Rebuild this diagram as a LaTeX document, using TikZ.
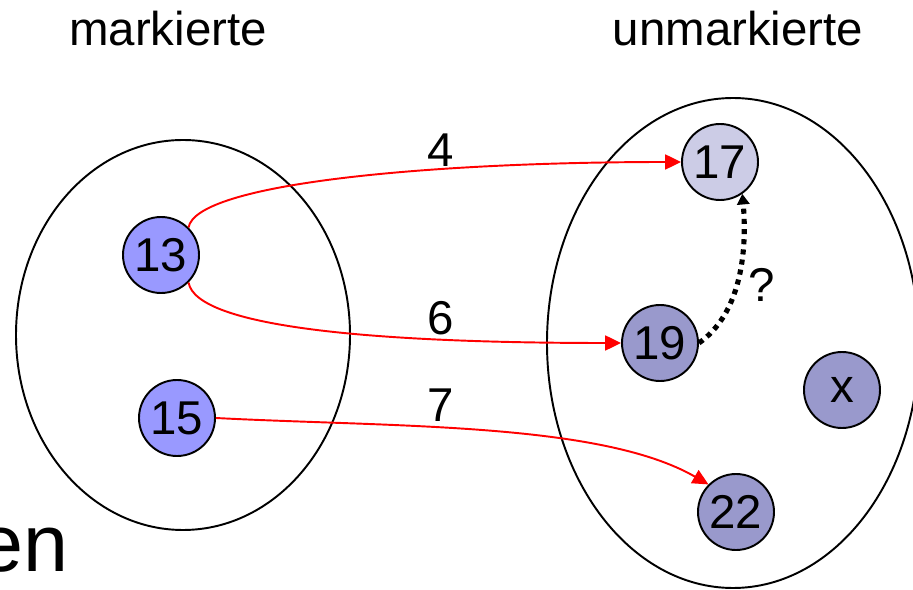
\documentclass[tikz,border=0pt]{standalone}
\usepackage{fontspec}
\setmainfont{Liberation Sans}
\usepackage{xcolor}
\usetikzlibrary{arrows.meta}

\definecolor{markblau}{HTML}{9999FF}
\definecolor{randlila}{HTML}{CCCCE6}
\definecolor{restlila}{HTML}{9999CC}

\begin{document}
\begin{tikzpicture}[x=1cm,y=1cm, every node/.style={font=\fontsize{27}{32}\selectfont},
  knoten/.style={circle, draw=black, line width=1.1pt, minimum size=1.52cm, inner sep=0pt},
  kante/.style={draw=red, line width=1.1pt, -{Triangle[length=9pt,width=8.5pt]}},
  frage/.style={draw=black, line width=2.9pt, dash pattern=on 2.9pt off 2.9pt, -{Triangle[length=6pt,width=7pt]}}]
\useasboundingbox (0,0) rectangle (18.26,11.8);
% die beiden Mengen
\draw[line width=1.1pt] (3.66,5.10) ellipse [x radius=3.34, y radius=3.90];
\draw[line width=1.1pt] (14.66,4.94) ellipse [x radius=3.72, y radius=4.90];
\node[anchor=base] (mk) at (3.36,10.88) {markierte};
\node[anchor=base] (umk) at (14.76,10.88) {unmarkierte};
% Knoten
\node[knoten, fill=markblau] (n13) at (3.22,6.70) {13};
\node[knoten, fill=markblau] (n15) at (3.54,3.44) {15};
\node[knoten, fill=randlila] (n17) at (14.40,8.56) {17};
\node[knoten, fill=restlila] (n19) at (13.20,4.94) {19};
\node[knoten, fill=restlila] (nx) at (16.84,4.00) {x};
\node[knoten, fill=restlila] (n22) at (14.72,1.56) {22};
% Kanten
\draw[kante] (n13.north east) to[out=80, in=180, out distance=0.9cm, in distance=5cm] (n17.west);
\draw[kante] (n13.south east) to[out=-80, in=180, out distance=0.9cm, in distance=5cm] (n19.west);
\draw[kante] (n15.east) to[out=-3, in=150, out distance=3.5cm, in distance=2.5cm] (n22.north west);
\draw[frage] (n19.east) to[out=35, in=-85, out distance=1cm, in distance=1.2cm] (n17.-55);
\node[anchor=base] (w4) at (8.82,8.46) {4};
\node[anchor=base] (w6) at (8.82,5.10) {6};
\node[anchor=base] (w7) at (8.82,3.36) {7};
\node[anchor=base] (fr) at (15.24,5.76) {?};
\node[anchor=base east, inner sep=0pt, font=\fontsize{46}{50}\selectfont] (rest) at (1.38,0.36) {en};
\end{tikzpicture}
\end{document}
